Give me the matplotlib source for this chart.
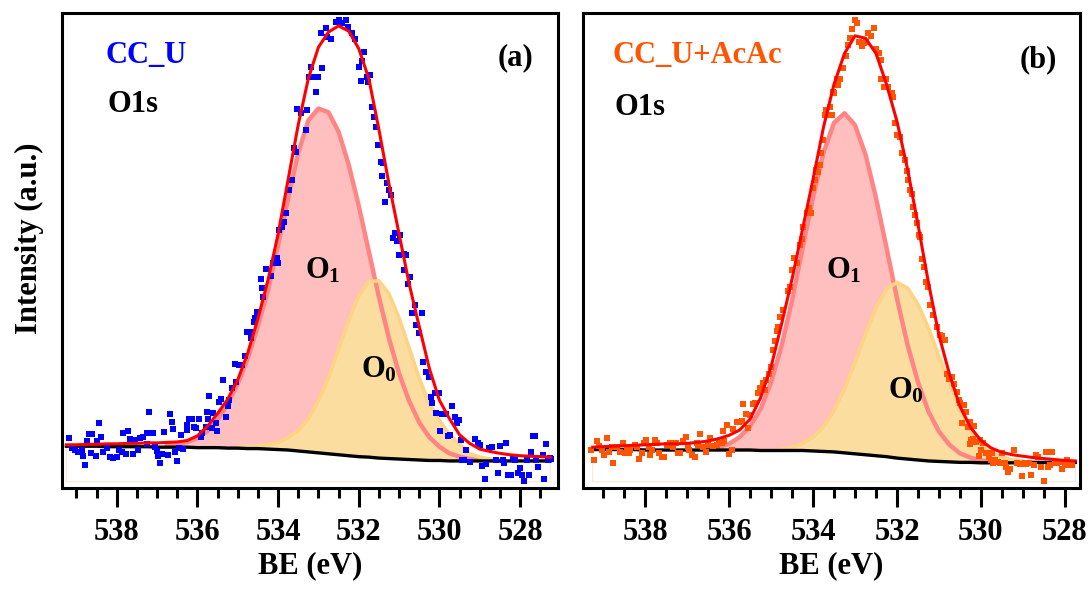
import matplotlib
matplotlib.use('Agg')
import matplotlib.pyplot as plt
import numpy as np
from matplotlib.ticker import MultipleLocator

plt.rcParams['font.family'] = 'Liberation Serif'
plt.rcParams['font.weight'] = 'bold'
plt.rcParams['mathtext.fontset'] = 'custom'
plt.rcParams['mathtext.rm'] = 'Liberation Serif:bold'
plt.rcParams['mathtext.bf'] = 'Liberation Serif:bold'
plt.rcParams['mathtext.it'] = 'Liberation Serif:bold'

# ---------------------------------------------------------------------------
# Fit curves (binding energy grid, 0.25 eV step)
# ---------------------------------------------------------------------------

FIT_BE = [539.25, 539.00, 538.75, 538.50, 538.25, 538.00, 537.75, 537.50, 537.25,
          537.00, 536.75, 536.50, 536.25, 536.00, 535.75, 535.50, 535.25, 535.00,
          534.75, 534.50, 534.25, 534.00, 533.75, 533.50, 533.25, 533.00, 532.75,
          532.50, 532.25, 532.00, 531.75, 531.50, 531.25, 531.00, 530.75, 530.50,
          530.25, 530.00, 529.75, 529.50, 529.25, 529.00, 528.75, 528.50, 528.25,
          528.00, 527.75, 527.50, 527.25]

# CC_U : Shirley background, components (height above background), envelope
BG_U = [88, 88, 88, 88, 87, 87, 87, 87, 87, 86, 86, 86, 86, 85, 85, 85, 84, 84,
        83, 83, 82, 81, 80, 78, 76, 74, 72, 70, 68, 66, 65, 63, 62, 61, 60, 59,
        58, 58, 57, 57, 57, 57, 57, 57, 57, 57, 57, 57, 57]
O1_U = [0, 0, 0, 0, 0, 0, 0, 0, 0, 1, 3, 6, 11, 20, 35, 59, 93, 135,
        190, 258, 334, 430, 530, 628, 698, 725, 719, 680, 613, 528, 433, 339, 253, 180, 123, 79,
        49, 29, 16, 9, 4, 2, 0, 0, 0, 0, 0, 0, 0]
O0_U = [0, 0, 0, 0, 0, 0, 0, 0, 0, 0, 0, 0, 0, 0, 0, 0, 1, 2,
        4, 6, 9, 15, 26, 43, 70, 110, 160, 222, 285, 338, 370, 373, 347, 297, 235, 172,
        120, 85, 55, 36, 15, 8, 4, 2, 1, 0, 0, 0, 0]
ENV_U = [91, 91, 92, 92, 93, 93, 94, 94, 95, 95, 96, 97, 100, 110, 130, 157, 187, 228,
         285, 357, 438, 535, 650, 765, 862, 928, 960, 973, 962, 925, 862, 755, 640, 535, 430, 340,
         252, 185, 146, 112, 94, 82, 77, 73, 70, 68, 67, 66, 65]

# CC_U+AcAc (grid ends at 527.75 eV)
BG_A = [81, 81, 81, 81, 81, 80, 80, 80, 80, 80, 80, 80, 80, 80, 80, 80, 79, 79,
        79, 79, 79, 78, 77, 76, 74, 72, 70, 68, 66, 63, 61, 59, 57, 56, 55, 54,
        54, 53, 53, 53, 53, 54, 54, 54, 54, 54, 54]
O1_A = [0, 0, 0, 0, 0, 0, 0, 0, 1, 1, 1, 3, 6, 13, 27, 50, 87, 143,
        220, 316, 425, 534, 629, 693, 715, 692, 632, 543, 440, 336, 241, 164, 104, 63, 36, 19,
        10, 5, 2, 1, 0, 0, 0, 0, 0, 0, 0]
O0_A = [0, 0, 0, 0, 0, 0, 0, 0, 0, 0, 0, 0, 0, 0, 0, 0, 0, 0,
        3, 7, 15, 29, 52, 87, 135, 192, 254, 311, 353, 370, 360, 328, 280, 222, 165, 115,
        68, 40, 22, 12, 6, 3, 1, 0, 0, 0, 0]
ENV_A = [86, 87, 88, 89, 90, 91, 92, 93, 93, 94, 96, 99, 104, 111, 122, 145, 190, 255,
         345, 440, 545, 650, 760, 850, 915, 952, 947, 915, 850, 772, 672, 555, 432, 322, 240, 172,
         128, 100, 84, 75, 70, 67, 64, 62, 60, 58, 57]

# ---------------------------------------------------------------------------
# Measured points
# ---------------------------------------------------------------------------

PTS_BE_U = [539.19, 539.11, 539.04, 538.97, 538.87, 538.84, 538.79, 538.74, 538.69, 538.63,
            538.62, 538.52, 538.50, 538.45, 538.40, 538.35, 538.25, 538.18, 538.10, 538.00,
            537.95, 537.88, 537.85, 537.76, 537.73, 537.68, 537.61, 537.56, 537.48, 537.43,
            537.36, 537.26, 537.24, 537.19, 537.11, 537.06, 537.01, 536.99, 536.94, 536.87,
            536.84, 536.74, 536.69, 536.64, 536.60, 536.55, 536.50, 536.45, 536.40, 536.35,
            536.27, 536.25, 536.20, 536.13, 536.08, 536.03, 535.95, 535.90, 535.88, 535.78,
            535.76, 535.73, 535.71, 535.63, 535.61, 535.53, 535.51, 535.46, 535.41, 535.36,
            535.29, 535.24, 535.21, 535.14, 535.06, 535.04, 534.97, 534.89, 534.82, 534.77,
            534.69, 534.67, 534.60, 534.57, 534.52, 534.42, 534.40, 534.37, 534.30, 534.17,
            534.13, 534.03, 534.00, 533.98, 533.90, 533.85, 533.80, 533.73, 533.66, 533.61,
            533.56, 533.53, 533.43, 533.31, 533.29, 533.24, 533.19, 533.16, 533.06, 533.01,
            532.94, 532.92, 532.82, 532.79, 532.69, 532.57, 532.50, 532.42, 532.32, 532.27,
            532.17, 532.10, 532.00, 531.95, 531.93, 531.88, 531.80, 531.76, 531.71, 531.68,
            531.63, 531.58, 531.53, 531.46, 531.43, 531.39, 531.34, 531.29, 531.26, 531.19,
            531.14, 531.09, 531.06, 530.99, 530.97, 530.89, 530.87, 530.84, 530.79, 530.72,
            530.69, 530.60, 530.57, 530.50, 530.42, 530.40, 530.32, 530.27, 530.20, 530.18,
            530.10, 530.08, 530.00, 529.98, 529.93, 529.83, 529.78, 529.73, 529.68, 529.61,
            529.56, 529.51, 529.46, 529.43, 529.39, 529.34, 529.24, 529.11, 529.04, 528.99,
            528.94, 528.87, 528.84, 528.77, 528.69, 528.60, 528.55, 528.50, 528.42, 528.40,
            528.35, 528.30, 528.22, 528.18, 528.13, 528.05, 528.00, 527.95, 527.90, 527.83,
            527.78, 527.73, 527.68, 527.63, 527.61, 527.56, 527.43, 527.41, 527.36, 527.31,
            527.26, 527.24]
PTS_I_U = [105, 84, 80, 76, 80, 67, 48, 99, 114, 74,
           114, 67, 99, 137, 107, 76, 84, 65, 63, 65,
           80, 76, 116, 72, 120, 103, 72, 101, 80, 105,
           107, 93, 116, 160, 116, 86, 78, 67, 53, 72,
           118, 69, 156, 139, 124, 76, 57, 84, 112, 82,
           133, 122, 145, 145, 128, 126, 145, 107, 116, 128,
           160, 145, 194, 126, 158, 137, 120, 181, 187, 227,
           149, 173, 185, 211, 261, 223, 259, 259, 278, 328,
           328, 316, 350, 358, 371, 440, 421, 402, 461, 446,
           474, 484, 474, 543, 549, 560, 579, 627, 648, 716,
           707, 798, 789, 754, 796, 865, 886, 865, 834, 865,
           958, 884, 968, 949, 945, 981, 985, 979, 985, 971,
           958, 945, 886, 857, 899, 918, 865, 855, 869, 802,
           781, 760, 722, 686, 657, 684, 602, 642, 627, 617,
           526, 537, 520, 491, 533, 493, 459, 491, 429, 444,
           368, 385, 343, 326, 368, 265, 244, 234, 192, 179,
           200, 158, 200, 120, 156, 156, 109, 112, 173, 149,
           137, 143, 101, 59, 59, 80, 55, 103, 95, 91,
           46, 19, 51, 84, 86, 59, 32, 88, 59, 53,
           95, 27, 27, 61, 59, 32, 42, 27, 15, 59,
           27, 76, 109, 109, 59, 44, 69, 19, 93, 59,
           63, 61]

PTS_BE_A = [539.30, 539.23, 539.15, 539.09, 539.03, 538.99, 538.92, 538.85, 538.80, 538.76,
            538.68, 538.60, 538.52, 538.48, 538.44, 538.38, 538.36, 538.24, 538.20, 538.14,
            538.08, 538.03, 537.98, 537.92, 537.88, 537.84, 537.77, 537.71, 537.66, 537.61,
            537.55, 537.49, 537.41, 537.33, 537.27, 537.21, 537.17, 537.09, 537.03, 536.99,
            536.95, 536.89, 536.81, 536.77, 536.73, 536.69, 536.63, 536.55, 536.50, 536.46,
            536.38, 536.30, 536.24, 536.18, 536.14, 536.12, 536.04, 536.00, 535.94, 535.90,
            535.82, 535.76, 535.70, 535.66, 535.60, 535.54, 535.50, 535.44, 535.38, 535.31,
            535.27, 535.20, 535.15, 535.11, 535.04, 535.00, 534.95, 534.91, 534.87, 534.83,
            534.79, 534.71, 534.59, 534.55, 534.49, 534.46, 534.39, 534.31, 534.27, 534.24,
            534.15, 534.09, 534.06, 534.00, 533.96, 533.92, 533.88, 533.84, 533.80, 533.76,
            533.72, 533.68, 533.64, 533.60, 533.56, 533.52, 533.50, 533.44, 533.40, 533.36,
            533.32, 533.28, 533.22, 533.16, 533.12, 533.06, 533.00, 532.95, 532.90, 532.84,
            532.79, 532.74, 532.69, 532.61, 532.55, 532.49, 532.43, 532.39, 532.37, 532.31,
            532.27, 532.21, 532.13, 532.09, 532.05, 532.01, 531.93, 531.87, 531.81, 531.77,
            531.73, 531.69, 531.65, 531.61, 531.57, 531.53, 531.47, 531.44, 531.41, 531.36,
            531.31, 531.26, 531.22, 531.15, 531.05, 530.98, 530.93, 530.86, 530.82, 530.76,
            530.70, 530.65, 530.58, 530.52, 530.50, 530.44, 530.41, 530.36, 530.31, 530.27,
            530.26, 530.23, 530.20, 530.17, 530.12, 530.05, 530.02, 529.99, 529.95, 529.87,
            529.81, 529.75, 529.73, 529.71, 529.67, 529.59, 529.55, 529.49, 529.43, 529.41,
            529.35, 529.30, 529.21, 529.15, 529.07, 529.03, 528.96, 528.92, 528.85, 528.80,
            528.74, 528.69, 528.64, 528.58, 528.50, 528.44, 528.40, 528.36, 528.31, 528.24,
            528.19, 528.12, 528.06, 528.00, 527.95, 527.88, 527.82]
PTS_I_A = [80, 60, 98, 88, 80, 69, 105, 76, 87, 52,
           87, 76, 94, 73, 80, 73, 81, 91, 87, 62,
           73, 94, 102, 87, 69, 80, 101, 95, 74, 66,
           66, 91, 95, 87, 94, 73, 74, 100, 108, 86,
           80, 69, 66, 95, 91, 114, 87, 76, 91, 105,
           88, 91, 94, 95, 119, 98, 133, 72, 81, 124,
           140, 140, 142, 176, 156, 126, 154, 176, 178, 200,
           210, 222, 206, 228, 240, 255, 290, 310, 330, 340,
           360, 375, 415, 424, 460, 484, 473, 512, 524, 550,
           578, 589, 578, 631, 648, 669, 666, 680, 705, 733,
           785, 796, 785, 803, 785, 834, 832, 862, 848, 862,
           885, 885, 909, 933, 947, 966, 985, 978, 940, 931,
           936, 940, 959, 952, 968, 924, 915, 902, 862, 845,
           862, 845, 831, 823, 768, 743, 740, 705, 690, 668,
           648, 627, 620, 592, 575, 558, 532, 529, 482, 466,
           434, 424, 385, 364, 340, 322, 319, 312, 241, 230,
           233, 220, 203, 185, 178, 137, 175, 161, 129, 140,
           93, 101, 103, 130, 96, 67, 101, 80, 94, 73,
           66, 59, 73, 53, 59, 55, 52, 73, 52, 45,
           34, 41, 81, 53, 51, 25, 52, 51, 53, 27,
           48, 69, 66, 45, 15, 76, 45, 48, 76, 52,
           52, 55, 39, 48, 59, 48, 48]

PINK_FILL, PINK_LINE = '#FFBFBF', '#FF8585'
ORANGE_FILL, ORANGE_LINE = '#FCDDA0', '#FDD384'
TXT = 22


def draw_panel(ax, fit_be, bg, o1, o0, env, pts_be, pts_i, color, msize, xlim):
    fit_be = np.asarray(fit_be)
    bg = np.asarray(bg, float)
    o1 = np.asarray(o1, float)
    o0 = np.asarray(o0, float)
    o1_top = bg + o1
    o0_top = bg + o0

    ax.fill_between(fit_be, 13, bg, facecolor='none', edgecolor='#FBE6D6', lw=0.8)
    ax.fill_between(fit_be, bg, o1_top, facecolor=PINK_FILL, lw=0)
    ax.plot(fit_be, np.where(o1 > 1, o1_top, np.nan), color=PINK_LINE, lw=3.2,
            solid_joinstyle='round')
    ax.fill_between(fit_be, bg, o0_top, facecolor=ORANGE_FILL, lw=0)
    ax.plot(fit_be, np.where(o0 > 1, o0_top, np.nan), color=ORANGE_LINE, lw=2.6,
            solid_joinstyle='round')
    ax.plot(fit_be, bg, color='black', lw=2.4)
    ax.scatter(pts_be, pts_i, marker='s', s=msize, color=color, lw=0, zorder=3)
    ax.plot(fit_be, env, color='#FF0000', lw=2.2, zorder=4, solid_joinstyle='round')

    ax.set_xlim(*xlim)
    ax.set_ylim(0, 1000)
    ax.set_yticks([])
    ax.xaxis.set_major_locator(MultipleLocator(2))
    ax.xaxis.set_minor_locator(MultipleLocator(0.5))
    ax.tick_params(axis='x', which='major', direction='out', length=13.5, width=2.2,
                   labelsize=TXT, pad=8)
    ax.tick_params(axis='x', which='minor', direction='out', length=7, width=2.2)
    for sp in ax.spines.values():
        sp.set_linewidth(2.2)
    ax.set_xlabel('BE (eV)', fontsize=TXT, fontweight='bold', labelpad=3)


fig = plt.figure(figsize=(10.91, 5.95), dpi=100)
ax_u = fig.add_axes([0.0568, 0.1798, 0.4546, 0.7983])
ax_a = fig.add_axes([0.5344, 0.1798, 0.4555, 0.7983])

draw_panel(ax_u, FIT_BE, BG_U, O1_U, O0_U, ENV_U, PTS_BE_U, PTS_I_U,
           '#0000FF', 20, (539.36, 527.06))
draw_panel(ax_a, FIT_BE[:len(BG_A)], BG_A, O1_A, O0_A, ENV_A, PTS_BE_A, PTS_I_A,
           '#FF5500', 15, (539.48, 527.64))

ax_u.set_ylabel('Intensity (a.u.)', fontsize=TXT, fontweight='bold')
ax_u.yaxis.set_label_coords(-0.036, 0.526)

# sample names, core level, panel letters
ax_u.text(0.087, 0.895, 'CC_U', transform=ax_u.transAxes, color='#0000FF',
          fontsize=TXT, fontweight='bold', va='baseline')
ax_u.text(0.091, 0.792, 'O1s', transform=ax_u.transAxes, fontsize=TXT,
          fontweight='bold', va='baseline')
ax_u.text(0.95, 0.89, '(a)', transform=ax_u.transAxes, fontsize=TXT,
          fontweight='bold', va='baseline', ha='right')

ax_a.text(0.060, 0.895, 'CC_U+AcAc', transform=ax_a.transAxes, color='#FF5500',
          fontsize=TXT, fontweight='bold', va='baseline')
ax_a.text(0.064, 0.785, 'O1s', transform=ax_a.transAxes, fontsize=TXT,
          fontweight='bold', va='baseline')
ax_a.text(0.954, 0.886, '(b)', transform=ax_a.transAxes, fontsize=TXT,
          fontweight='bold', va='baseline', ha='right')

# component labels
ax_u.text(532.90, 442, r'$\mathbf{O_1}$', fontsize=TXT, ha='center', va='baseline', zorder=5)
ax_u.text(531.51, 232, r'$\mathbf{O_0}$', fontsize=TXT, ha='center', va='baseline', zorder=5)
ax_a.text(533.27, 442, r'$\mathbf{O_1}$', fontsize=TXT, ha='center', va='baseline', zorder=5)
ax_a.text(531.79, 189, r'$\mathbf{O_0}$', fontsize=TXT, ha='center', va='baseline', zorder=5)

fig.savefig('out.png', dpi=100)
